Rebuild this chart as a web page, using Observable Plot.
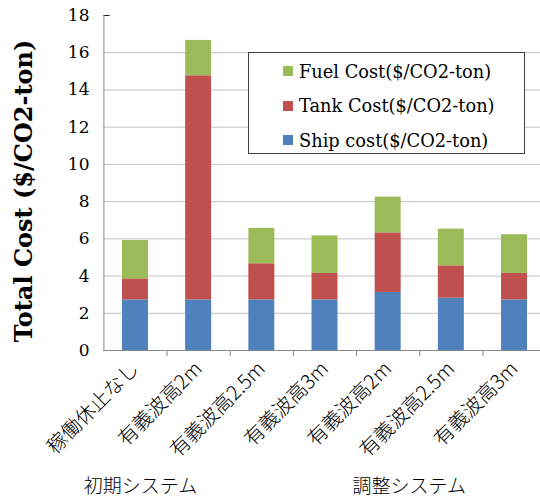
<!DOCTYPE html>
<html>
<head>
<meta charset="utf-8">
<script src="https://cdn.jsdelivr.net/npm/d3@7"></script>
<script src="https://cdn.jsdelivr.net/npm/@observablehq/plot@0.6"></script>
<style>
  body { margin: 0; background: #fff; overflow: hidden; }
  #chart { position: relative; width: 540px; height: 499px; }
  #chart svg { display: block; }
  .legend {
    position: absolute; left: 248px; top: 52px; width: 277px; height: 102px;
    box-sizing: border-box; border: 1px solid #404040; background: #fff;
    font-family: "DejaVu Serif", serif; font-size: 17.8px; color: #000;
    padding-top: 1px;
  }
  .legend .row { display: flex; align-items: center; height: 34.5px; padding-left: 34px; }
  .legend .sw { width: 10px; height: 10px; margin-right: 6px; flex: none; }
</style>
</head>
<body>
<div id="chart"></div>
<script>
// Categories along the x axis (two systems: initial / adjusted)
const categories = ["稼働休止なし", "有義波高2m", "有義波高2.5m", "有義波高3m", "有義波高2m", "有義波高2.5m", "有義波高3m"];
const groupLabels = ["初期システム", "調整システム"];
const groupStart = [0, 4];

// Cost components ($/CO2-ton), stacked bottom to top: ship, tank, fuel
const shipCost = [2.72, 2.72, 2.72, 2.72, 3.12, 2.81, 2.72];
const tankCost = [1.13, 12.04, 1.94, 1.42, 3.20, 1.74, 1.42];
const fuelCost = [2.06, 1.90, 1.90, 2.02, 1.92, 1.97, 2.08];

const seriesNames = ["Ship cost($/CO2-ton)", "Tank Cost($/CO2-ton)", "Fuel Cost($/CO2-ton)"];
const seriesColors = ["#4F81BD", "#C0504D", "#9BBB59"];
const yTicks = [0, 2, 4, 6, 8, 10, 12, 14, 16, 18];
const yTitle = "Total Cost ($/CO2-ton)";

const seriesValues = [shipCost, tankCost, fuelCost];
const rows = [];
seriesNames.forEach((s, k) => {
  seriesValues[k].forEach((v, i) => rows.push({i, series: s, value: v}));
});

const serif = "'DejaVu Serif', serif";
const cjk = "'Noto Sans CJK JP', sans-serif";

const plot = Plot.plot({
  width: 540,
  height: 499,
  marginLeft: 103,
  marginRight: 0,
  marginTop: 15,
  marginBottom: 149,
  style: {fontFamily: serif, fontSize: "17px", background: "#fff", color: "#000"},
  x: {domain: [0, categories.length], range: [103.4, 545.6], axis: null},
  y: {domain: [0, 18], axis: null},
  color: {domain: seriesNames, range: seriesColors},
  marks: [
    // horizontal gridlines
    Plot.ruleY(yTicks.filter(t => t > 0 && t < 18), {stroke: "#c0c0c0", strokeWidth: 1}),
    Plot.ruleY([18], {x1: 0.1, stroke: "#222", strokeWidth: 1}),
    // stacked bars
    Plot.rectY(rows, {
      x1: "i", x2: d => d.i + 1, y: "value", fill: "series", z: "series",
      order: seriesNames, insetLeft: 18.6, insetRight: 18.6
    }),
    // axes lines
    Plot.ruleX([0], {y1: 0, y2: 18, stroke: "#888"}),
    Plot.ruleY([0], {stroke: "#888"}),
    Plot.axisX({ticks: d3.range(1, categories.length + 1), tickSize: 6, stroke: "#888", tickFormat: () => "", label: null}),
    Plot.axisY({ticks: yTicks, tickSize: 0, tickPadding: 14, fontSize: 17, label: null}),
    // y axis title
    Plot.text([yTitle], {
      frameAnchor: "left", textAnchor: "middle", rotate: -90, dx: -79, dy: 8,
      fontSize: 24, fontWeight: "bold", fontFamily: serif
    }),
    // category labels
    Plot.text(categories, {
      x: (d, i) => i + 0.5, y: () => 0, rotate: -45, textAnchor: "end",
      dx: 0, dy: 15, fontSize: 20, fontFamily: cjk, fontWeight: 300
    }),
    // group labels
    Plot.text([groupLabels[0]], {
      x: () => groupStart[0] + 0.5, frameAnchor: "bottom", dx: 5, dy: 142,
      fontSize: 19, fontFamily: cjk, fontWeight: 300
    }),
    Plot.text([groupLabels[1]], {
      x: () => groupStart[1] + 0.5, frameAnchor: "bottom", dx: 21, dy: 142,
      fontSize: 19, fontFamily: cjk, fontWeight: 300
    })
  ]
});

const chart = document.getElementById("chart");
chart.appendChild(plot);

// legend box, top entry first
const legend = document.createElement("div");
legend.className = "legend";
[2, 1, 0].forEach(k => {
  const row = document.createElement("div");
  row.className = "row";
  const sw = document.createElement("span");
  sw.className = "sw";
  sw.style.background = seriesColors[k];
  const label = document.createElement("span");
  label.textContent = seriesNames[k];
  row.appendChild(sw);
  row.appendChild(label);
  legend.appendChild(row);
});
chart.appendChild(legend);
</script>
</body>
</html>
